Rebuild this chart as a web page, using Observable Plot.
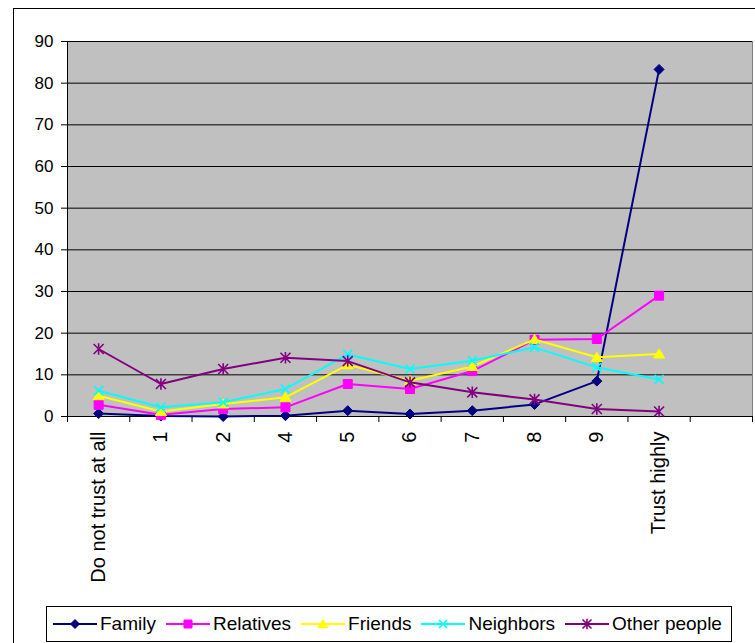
<!DOCTYPE html>
<html>
<head>
<meta charset="utf-8">
<script src="https://cdn.jsdelivr.net/npm/d3@7"></script>
<script src="https://cdn.jsdelivr.net/npm/@observablehq/plot@0.6"></script>
<style>
  html, body { margin: 0; padding: 0; background: #fff; }
  #chart { position: relative; width: 755px; height: 643px; overflow: hidden;
           font-family: "Liberation Sans", Arial, sans-serif; }
  #outer { position: absolute; left: 13px; top: 8px; width: 800px; height: 700px;
           border: 1px solid #000; box-sizing: border-box; }
  #plot { position: absolute; left: 0; top: 0; }
  #legend { position: absolute; left: 46px; top: 606px; width: 686px; height: 36px;
            border: 1px solid #000; box-sizing: border-box; background: #fff;
            display: flex; align-items: center; padding-left: 6px; font-size: 19px; color: #000; }
  .item { display: flex; align-items: center; margin-right: 10px; white-space: nowrap; }
  .item svg { margin-right: 3px; display: block; }
</style>
</head>
<body>
<div id="chart"><div id="outer"></div><div id="plot"></div><div id="legend"></div></div>
<script>
// Trust scale categories (there is no "3" on this scale); one empty slot follows the last one
const categories = ["Do not trust at all", "1", "2", "4", "5", "6", "7", "8", "9", "Trust highly"];
const emptySlots = 1;

// Share of respondents (%) per trust level
const family    = [0.7, 0.1, 0.0, 0.2, 1.4, 0.6, 1.4, 2.9, 8.5, 83.3];
const relatives = [2.8, 0.4, 1.8, 2.2, 7.8, 6.6, 10.9, 18.4, 18.6, 29.0];
const friends   = [5.0, 1.2, 3.0, 4.6, 12.4, 8.6, 12.0, 18.5, 14.2, 15.0];
const neighbors = [6.2, 2.2, 3.4, 6.6, 14.9, 11.4, 13.4, 16.6, 11.8, 8.9];
const others    = [16.2, 7.8, 11.4, 14.1, 13.3, 8.2, 5.8, 4.1, 1.8, 1.2];

const seriesNames = ["Family", "Relatives", "Friends", "Neighbors", "Other people"];
const yTicks = [0, 10, 20, 30, 40, 50, 60, 70, 80, 90];

// Marker shapes; the half-extent equals Plot's r
const half = (size) => Math.sqrt(size / Math.PI);
const diamond = { draw(ctx, size) { const h = half(size);
  ctx.moveTo(0, -h); ctx.lineTo(h, 0); ctx.lineTo(0, h); ctx.lineTo(-h, 0); ctx.closePath(); } };
const square = { draw(ctx, size) { const h = half(size); ctx.rect(-h, -h, 2 * h, 2 * h); } };
const triangle = { draw(ctx, size) { const h = half(size);
  ctx.moveTo(0, -h); ctx.lineTo(h * 1.1, h * 0.8); ctx.lineTo(-h * 1.1, h * 0.8); ctx.closePath(); } };
const cross = { draw(ctx, size) { const h = half(size);
  ctx.moveTo(-h, -h); ctx.lineTo(h, h); ctx.moveTo(-h, h); ctx.lineTo(h, -h); } };
const star = { draw(ctx, size) { const h = half(size);
  ctx.moveTo(-h, -h); ctx.lineTo(h, h); ctx.moveTo(-h, h); ctx.lineTo(h, -h);
  ctx.moveTo(0, -h * 1.15); ctx.lineTo(0, h * 1.15); } };

const series = [
  { name: seriesNames[0], values: family,    color: "#000080", symbol: diamond,  r: 5,   filled: true },
  { name: seriesNames[1], values: relatives, color: "#ff00ff", symbol: square,   r: 4.5, filled: true },
  { name: seriesNames[2], values: friends,   color: "#ffff00", symbol: triangle, r: 5,   filled: true },
  { name: seriesNames[3], values: neighbors, color: "#00ffff", symbol: cross,    r: 4.5, filled: false },
  { name: seriesNames[4], values: others,    color: "#800080", symbol: star,     r: 5,   filled: false }
];

const slotCount = categories.length + emptySlots;
const xDomain = [-0.5, slotCount - 0.5];
const boundaries = d3.range(slotCount + 1).map(k => k - 0.5);

const seriesMarks = series.flatMap(s => {
  const rows = s.values.map((v, i) => ({ i, v }));
  return [
    Plot.line(rows, { x: "i", y: "v", stroke: s.color, strokeWidth: 2 }),
    Plot.dot(rows, {
      x: "i", y: "v", symbol: s.symbol, r: s.r,
      fill: s.filled ? s.color : "none", stroke: s.color,
      strokeWidth: s.filled ? 1 : 1.6
    })
  ];
});

const chart = Plot.plot({
  width: 755,
  height: 643,
  marginLeft: 67,
  marginRight: 3,
  marginTop: 41,
  marginBottom: 227,
  x: { domain: xDomain, axis: null },
  y: { domain: [0, 90], axis: null },
  style: { fontFamily: "'Liberation Sans', Arial, sans-serif", background: "transparent", color: "#000" },
  marks: [
    Plot.frame({ fill: "#c0c0c0", stroke: "#808080" }),
    Plot.gridY(yTicks, { stroke: "#000", strokeOpacity: 1 }),
    Plot.ruleX([xDomain[0]], { stroke: "#000" }),
    Plot.ruleY([0], { stroke: "#000" }),
    Plot.axisY({ ticks: yTicks, tickSize: 6, tickPadding: 8, fontSize: 17, label: null }),
    Plot.axisX({ ticks: boundaries, tickSize: 6, tickFormat: () => "", label: null }),
    Plot.axisX({
      ticks: d3.range(categories.length), tickFormat: i => categories[i], label: null,
      tickSize: 0, tickPadding: 15, tickRotate: -90, fontSize: 20
    }),
    ...seriesMarks
  ]
});
document.getElementById("plot").appendChild(chart);

// Legend
const legend = d3.select("#legend");
for (const s of series) {
  const item = legend.append("div").attr("class", "item");
  const sw = item.append("svg").attr("width", 44).attr("height", 20);
  sw.append("line").attr("x1", 0).attr("x2", 44).attr("y1", 10).attr("y2", 10)
    .attr("stroke", s.color).attr("stroke-width", 2);
  sw.append("path")
    .attr("transform", "translate(22,10)")
    .attr("d", d3.symbol().type(s.symbol).size(Math.PI * (s.r - 0.5) * (s.r - 0.5))())
    .attr("fill", s.filled ? s.color : "none")
    .attr("stroke", s.color)
    .attr("stroke-width", s.filled ? 1 : 1.6);
  item.append("span").text(s.name);
}
</script>
</body>
</html>
